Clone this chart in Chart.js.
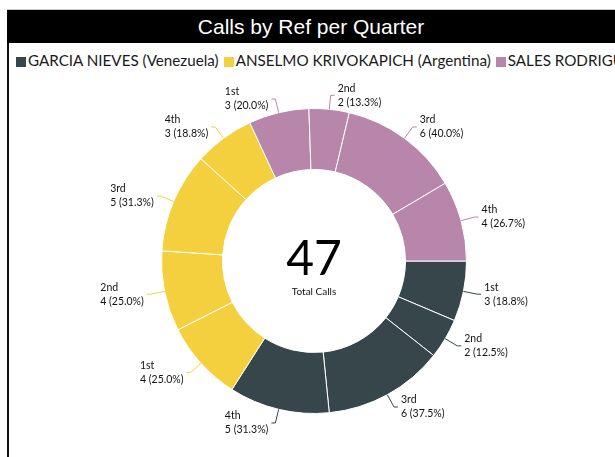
<!DOCTYPE html>
<html>
<head>
<meta charset="utf-8">
<script src="https://cdn.jsdelivr.net/npm/chart.js@4.4.1/dist/chart.umd.min.js"></script>
<style>
  body { margin: 0; background: #fff; }
  #frame { position: absolute; left: 7px; top: 9px; width: 608px; height: 448px;
           border-top: 1px solid #cfcfcf; overflow: hidden; }
  #leftline { position: absolute; left: 0; top: 33px; width: 2px; bottom: 0; background: #111; }
  #title { height: 33px; background: #000; color: #fff; text-align: center;
           font: 21px "Liberation Sans", Arial, sans-serif; line-height: 33px; }
  #legend { position: absolute; left: 9px; top: 41px; white-space: nowrap;
            font: 15.2px Lato, sans-serif; color: #1a1a1a; }
  #legend span.box { display: inline-block; width: 10px; height: 10px; margin-right: 2px; vertical-align: -1px; }
  #legend span.item { margin-right: 5px; }
  #box { position: absolute; left: 9px; top: 72px; width: 606px; height: 385px; }
</style>
</head>
<body>
<div id="frame">
  <div id="title">Calls by Ref per Quarter</div>
  <div id="leftline"></div>
  <div id="legend"></div>
</div>
<div id="box"><canvas id="myChart"></canvas></div>
<script>
var quarters = ['1st', '2nd', '3rd', '4th'];
var refs = ['GARCIA NIEVES (Venezuela)', 'ANSELMO KRIVOKAPICH (Argentina)', 'SALES RODRIGUEZ'];
var garcia = [3, 2, 6, 5];
var anselmo = [4, 4, 5, 3];
var sales = [3, 2, 6, 4];
var refColors = ['#37464a', '#f4d03f', '#b886ab'];

var series = [garcia, anselmo, sales];

// flatten into one ring: every ref's quarters one after another
var labels = [], values = [], colors = [], pct = [];
series.forEach(function (s, r) {
  var tot = s.reduce(function (a, b) { return a + b; }, 0);
  s.forEach(function (v, q) {
    labels.push(quarters[q]);
    values.push(v);
    colors.push(refColors[r]);
    pct.push((v / tot * 100).toFixed(1));
  });
});
var total = values.reduce(function (a, b) { return a + b; }, 0);

// html legend (it runs off the right edge like the original)
var lg = document.getElementById('legend');
refs.forEach(function (name, i) {
  lg.innerHTML += '<span class="item"><span class="box" style="background:' + refColors[i] + '"></span>' + name + '</span>';
});

var outLabels = {
  id: 'outLabels',
  afterDatasetsDraw: function (chart) {
    var c = chart.ctx;
    var arcs = chart.getDatasetMeta(0).data;
    c.save();
    c.font = '10.5px Lato, sans-serif';
    c.textBaseline = 'middle';
    arcs.forEach(function (arc, i) {
      var p = arc.getProps(['x', 'y', 'startAngle', 'endAngle', 'outerRadius'], true);
      var a = (p.startAngle + p.endAngle) / 2;
      var cos = Math.cos(a), sin = Math.sin(a);
      var x0 = p.x + cos * p.outerRadius, y0 = p.y + sin * p.outerRadius;
      var x1 = p.x + cos * (p.outerRadius + 14), y1 = p.y + sin * (p.outerRadius + 14);
      var right = cos >= 0;
      var x2 = x1 + (right ? 4 : -4);
      c.strokeStyle = colors[i];
      c.lineWidth = 1;
      c.beginPath();
      c.moveTo(x0, y0); c.lineTo(x1, y1); c.lineTo(x2, y1);
      c.stroke();
      var l1 = labels[i], l2 = values[i] + ' (' + pct[i] + '%)';
      var w = Math.max(c.measureText(l1).width, c.measureText(l2).width);
      var tx = right ? x2 + 3 : x2 - 3 - w;
      c.fillStyle = '#111';
      c.textAlign = 'left';
      c.fillText(l1, tx, y1 - 7);
      c.fillText(l2, tx, y1 + 7);
    });
    c.restore();
  }
};

var centerText = {
  id: 'centerText',
  afterDraw: function (chart) {
    var c = chart.ctx;
    var arc = chart.getDatasetMeta(0).data[0];
    c.save();
    c.fillStyle = '#000';
    c.textAlign = 'center';
    c.textBaseline = 'alphabetic';
    c.font = '48px Lato, sans-serif';
    c.fillText(String(total), arc.x, arc.y + 14);
    c.font = '10px Lato, sans-serif';
    c.fillStyle = '#111';
    c.fillText('Total Calls', arc.x, arc.y + 34);
    c.restore();
  }
};

var ctx = document.getElementById('myChart');
var myChart = new Chart(ctx, {
  type: 'doughnut',
  data: {
    labels: labels,
    datasets: [{
      data: values,
      backgroundColor: colors,
      borderColor: '#ffffff',
      borderWidth: 1,
      hoverOffset: 0
    }]
  },
  options: {
    responsive: true,
    maintainAspectRatio: false,
    animation: false,
    rotation: 90,
    cutout: '60%',
    layout: { padding: { top: 36, bottom: 43, left: 100, right: 96 } },
    plugins: {
      legend: { display: false },
      tooltip: { enabled: false }
    }
  },
  plugins: [outLabels, centerText]
});
</script>
</body>
</html>
